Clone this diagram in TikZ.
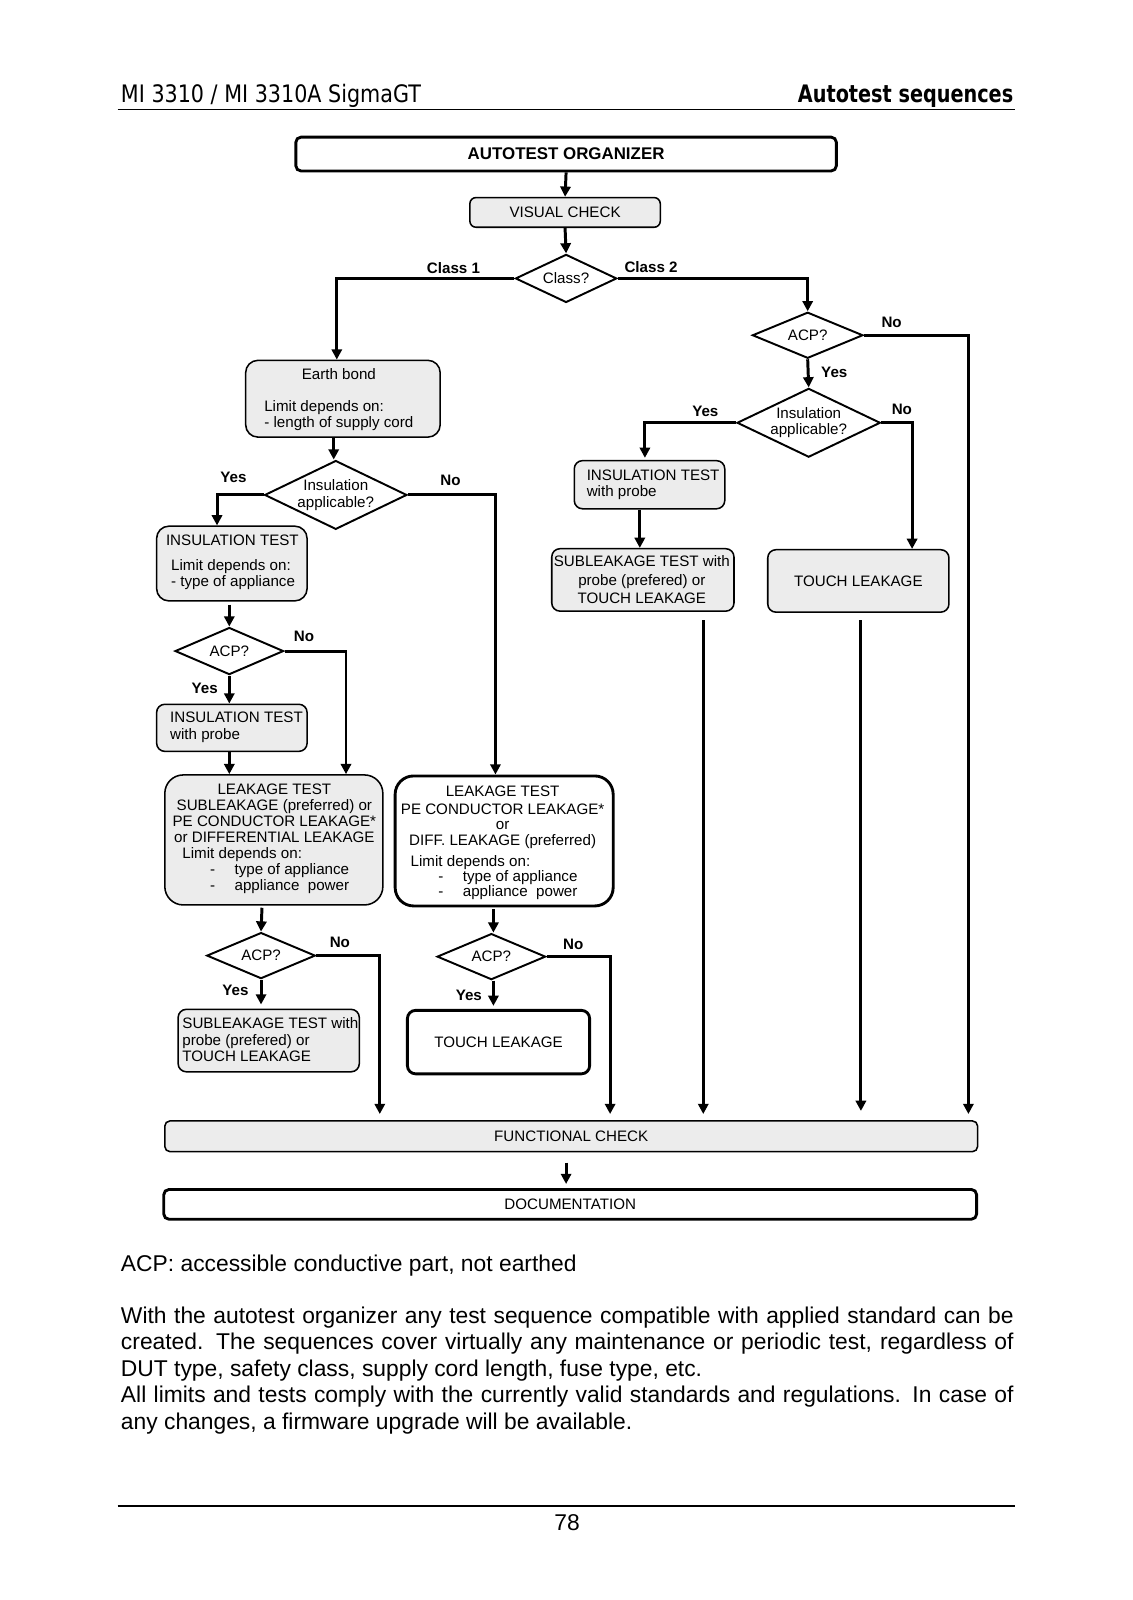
\documentclass[tikz,border=0pt]{standalone}
\usepackage{fontspec}
\setmainfont{Liberation Sans}
\newfontfamily\hdrfont[FakeStretch=0.86]{DejaVu Sans}
\newfontfamily\hdrbold[FakeStretch=0.80]{DejaVu Sans}
\usetikzlibrary{shapes.geometric,arrows.meta,calc}
\definecolor{boxgrey}{RGB}{236,236,236}
\newcommand\dfont{\fontsize{14.8}{16}\selectfont}
\newcommand\dbold{\fontsize{14.8}{16}\selectfont\bfseries}
\newcommand\bodyfont{\fontsize{22.3}{25.8}\selectfont}
\tikzset{
  gbox/.style={draw, fill=boxgrey, line width=1.5pt, rounded corners=8pt, inner sep=0pt, font=\dfont, align=center},
  wbox/.style={draw, fill=white, line width=2.8pt, rounded corners=8pt, inner sep=0pt, font=\dfont, align=center},
  dec/.style={shape=diamond, draw, fill=white, line width=1.9pt, inner sep=0pt, aspect=2, font=\dfont, align=center},
  arr/.style={line width=2.9pt, -{Triangle[length=10pt,width=10pt]}},
  lab/.style={font=\dbold, inner sep=0pt},
  txt/.style={font=\dfont, inner sep=0pt, align=left, anchor=base west},
  ctxt/.style={font=\dfont, inner sep=0pt, align=center, anchor=base}
}
\begin{document}
\begin{tikzpicture}[x=1pt,y=-1pt]
\useasboundingbox (0,0) rectangle (1106,1563);
\fill[white] (0,0) rectangle (1106,1563);

% header
\node[anchor=base west, inner sep=0pt, font={\hdrfont\fontsize{23.5}{28}\selectfont}] (hleft) at (118,100) {MI 3310 / MI 3310A SigmaGT};
\node[anchor=base east, inner sep=0pt, font={\hdrbold\bfseries\fontsize{23.5}{28}\selectfont}] (hright) at (990,100) {Autotest sequences};
\draw[line width=1.3pt] (115,107) -- (992,107);

% boxes
\node[wbox, rounded corners=5pt, minimum width=528, minimum height=33, font={\fontsize{16.5}{18}\selectfont\bfseries}] (auto) at (553,150.5) {AUTOTEST ORGANIZER};
\node[gbox, rounded corners=6pt, minimum width=186, minimum height=29] (vis) at (552,207.5) {VISUAL CHECK};
\node[dec, minimum width=99, minimum height=47] (cls) at (553,272) {Class?};

% right branch
\node[dec, minimum width=108, minimum height=45] (racp) at (789,327.5) {ACP?};
\node[dec, minimum width=140, minimum height=66] (rins) at (790,413) {Insulation\\applicable?};
\node[gbox, minimum width=147, minimum height=47] (rprobe) at (634.5,473.5) {};
\node[txt] (rprobet) at (573,485) {INSULATION TEST\\with probe};
\node[gbox, minimum width=178, minimum height=61] (rsub) at (628,566.5) {};
\node[ctxt, font={\fontsize{14.8}{18.5}\selectfont}] (rsubt) at (627,590) {SUBLEAKAGE TEST with\\probe (prefered) or\\TOUCH LEAKAGE};
\node[gbox, minimum width=177, minimum height=61] (rtouch) at (838.5,567.5) {TOUCH LEAKAGE};

% left branch
\node[gbox, rounded corners=12pt, minimum width=190, minimum height=75] (earth) at (335,389.5) {};
\node[ctxt] (eartht) at (331,371) {Earth bond};
\node[txt] (earthl) at (258,418) {Limit depends on:\\- length of supply cord};
\node[dec, minimum width=139, minimum height=67] (lins) at (328,483.5) {Insulation\\applicable?};
\node[gbox, rounded corners=12pt, minimum width=147, minimum height=73] (ltest) at (226.5,550.5) {};
\node[ctxt] (ltestt) at (227,533) {INSULATION TEST};
\node[txt] (ltestl) at (167,573) {Limit depends on:\\- type of appliance};
\node[dec, minimum width=106, minimum height=46] (lacpa) at (224,636) {ACP?};
\node[gbox, minimum width=147, minimum height=46] (lprobe) at (226.5,711) {};
\node[txt] (lprobet) at (166,722) {INSULATION TEST\\with probe};
\node[gbox, rounded corners=18pt, minimum width=213, minimum height=127] (lleak) at (267.5,820.5) {};
\node[ctxt, font={\fontsize{14.8}{15.7}\selectfont}] (lleakt) at (268,823) {LEAKAGE TEST\\SUBLEAKAGE (preferred) or\\PE CONDUCTOR LEAKAGE*\\or DIFFERENTIAL LEAKAGE};
\node[txt, font={\fontsize{14.8}{15.7}\selectfont}] (lleakl) at (178,870) {Limit depends on:\\\hspace*{27pt}\makebox[24pt][l]{-}type of appliance\\\hspace*{27pt}\makebox[24pt][l]{-}appliance\ \ power};
\node[dec, minimum width=106, minimum height=45] (lacpb) at (255,933.5) {ACP?};
\node[gbox, minimum width=177, minimum height=61] (lsub) at (262.5,1016.5) {};
\node[txt] (lsubt) at (178,1037) {SUBLEAKAGE TEST with\\probe (prefered) or\\TOUCH LEAKAGE};

% middle branch
\node[wbox, rounded corners=18pt, minimum width=213, minimum height=127] (mleak) at (492.5,821.5) {};
\node[ctxt] (mleakt) at (491,826) {LEAKAGE TEST\\[2pt]PE CONDUCTOR LEAKAGE*\\[-2pt]or\\DIFF. LEAKAGE (preferred)};
\node[txt, font={\fontsize{14.8}{15}\selectfont}] (mleakl) at (401,876) {Limit depends on:\\\hspace*{27pt}\makebox[24pt][l]{-}type of appliance\\\hspace*{27pt}\makebox[24pt][l]{-}appliance\ \ power};
\node[dec, minimum width=106, minimum height=45] (macp) at (480,934.5) {ACP?};
\node[wbox, minimum width=178, minimum height=62] (mtouch) at (487,1018) {TOUCH LEAKAGE};

% bottom
\node[gbox, rounded corners=5pt, minimum width=794, minimum height=30] (func) at (558,1110) {FUNCTIONAL CHECK};
\node[wbox, rounded corners=5pt, minimum width=794, minimum height=29] (doc) at (557,1176.5) {DOCUMENTATION};

% connectors
\draw[arr] (auto.south) -- (vis.north);
\draw[arr] (vis.south) -- (cls.north);
\draw[arr] (cls.west) -| ([xshift=-6pt]earth.north);
\draw[arr] (cls.east) -| (racp.north);
\draw[arr, shorten >=6pt] (racp.east) -| ([xshift=388pt]func.north);
\draw[arr] (racp.south) -- (rins.north);
\draw[arr, shorten >=2pt] (rins.west) -| ([xshift=-4.5pt]rprobe.north);
\draw[arr] (rins.east) -| ([xshift=52.5pt]rtouch.north);
\draw[arr] ([xshift=-9.5pt]rprobe.south) -- ([xshift=-9.5pt]rprobe.south |- rsub.north);
\draw[arr, shorten <=8pt, shorten >=6pt] ([xshift=59pt]rsub.south) -- ([xshift=59pt]rsub.south |- func.north);
\draw[arr, shorten <=7pt, shorten >=9pt] ([xshift=2.5pt]rtouch.south) -- ([xshift=2.5pt]rtouch.south |- func.north);
\draw[arr] ([xshift=-9pt]earth.south) -- ([xshift=-9pt]earth.south |- lins.north);
\draw[arr] (lins.west) -| ([xshift=-14.5pt]ltest.north);
\draw[arr] (lins.east) -| ([xshift=-8.5pt]mleak.north);
\draw[arr, shorten <=3pt] ([xshift=-2.5pt]ltest.south) -- ([xshift=-2.5pt]ltest.south |- lacpa.north);
\draw[arr] (lacpa.east) -| ([xshift=70.5pt]lleak.north);
\draw[arr] (lacpa.south) -- ([xshift=-2.5pt]lprobe.north);
\draw[arr] ([xshift=-2.5pt]lprobe.south) -- ([xshift=-43.5pt]lleak.north);
\draw[arr, shorten <=2pt] ([xshift=-11.5pt]lleak.south) -- (lacpb.north);
\draw[arr, shorten >=6pt] (lacpb.east) -| ([xshift=-187pt]func.north);
\draw[arr, shorten >=4pt] (lacpb.south) -- (lacpb.south |- lsub.north);
\draw[arr, shorten <=2pt] ([xshift=-10.5pt]mleak.south) -- ([xshift=-10.5pt]mleak.south |- macp.north);
\draw[arr, shorten >=6pt] (macp.east) -| ([xshift=38pt]func.north);
\draw[arr, shorten >=3pt] ([xshift=2pt]macp.south) -- ([xshift=2pt]macp.south |- mtouch.north);
\draw[arr, shorten <=10pt, shorten >=4pt] ([xshift=-5pt]func.south) -- ([xshift=-5pt]func.south |- doc.north);

% labels
\node[lab] (lc1) at (443,262) {Class 1};
\node[lab] (lc2) at (636,261) {Class 2};
\node[lab] (l1) at (871,315) {No};
\node[lab] (l2) at (815,364) {Yes};
\node[lab] (l3) at (689,402) {Yes};
\node[lab] (l4) at (881,400) {No};
\node[lab] (l5) at (228,466) {Yes};
\node[lab] (l6) at (440,469) {No};
\node[lab] (l7) at (297,622) {No};
\node[lab] (l8) at (200,672) {Yes};
\node[lab] (l9) at (332,921) {No};
\node[lab] (l10) at (230,967) {Yes};
\node[lab] (l11) at (560,923) {No};
\node[lab] (l12) at (458,972) {Yes};

% text below
\node[anchor=base west, inner sep=0pt, font=\bodyfont] (acp) at (118,1242) {ACP: accessible conductive part, not earthed};
\node[anchor=base west, inner sep=0pt, font=\bodyfont, align=left] (para) at (118,1396) {\makebox[872pt][s]{With the autotest organizer any test sequence compatible with applied standard can be}\\\makebox[872pt][s]{created. The sequences cover virtually any maintenance or periodic test, regardless of}\\DUT type, safety class, supply cord length, fuse type, etc.\\\makebox[872pt][s]{All limits and tests comply with the currently valid standards and regulations. In case of}\\any changes, a firmware upgrade will be available.};
\draw[line width=1.3pt] (115,1471) -- (992,1471);
\node[anchor=base, inner sep=0pt, font=\bodyfont] (pnum) at (554,1495) {78};
\end{tikzpicture}
\end{document}
